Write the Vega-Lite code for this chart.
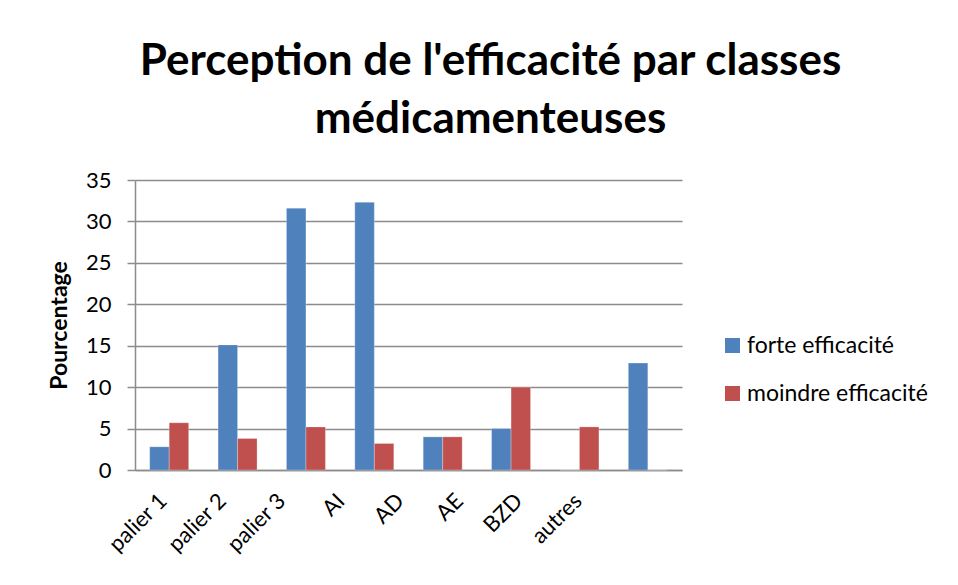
{
  "$schema": "https://vega.github.io/schema/vega-lite/v6.json",
  "width": 547,
  "height": 290,
  "autosize": {"type": "none"},
  "padding": {"left": 135, "top": 180, "right": 276, "bottom": 115},
  "background": "white",
  "title": {
    "text": ["Perception de l'efficacité par classes", "médicamenteuses"],
    "font": "Lato",
    "fontSize": 44,
    "fontWeight": "bold",
    "color": "#000000",
    "anchor": "middle",
    "dx": 82,
    "offset": 27,
    "lineHeight": 58
  },
  "data": {
    "values": [
      {"classe": "palier 1", "serie": "forte efficacité", "valeur": 2.8},
      {"classe": "palier 1", "serie": "moindre efficacité", "valeur": 5.7},
      {"classe": "palier 2", "serie": "forte efficacité", "valeur": 15.1},
      {"classe": "palier 2", "serie": "moindre efficacité", "valeur": 3.8},
      {"classe": "palier 3", "serie": "forte efficacité", "valeur": 31.6},
      {"classe": "palier 3", "serie": "moindre efficacité", "valeur": 5.2},
      {"classe": "AI", "serie": "forte efficacité", "valeur": 32.3},
      {"classe": "AI", "serie": "moindre efficacité", "valeur": 3.2},
      {"classe": "AD", "serie": "forte efficacité", "valeur": 4.0},
      {"classe": "AD", "serie": "moindre efficacité", "valeur": 4.0},
      {"classe": "AE", "serie": "forte efficacité", "valeur": 5.0},
      {"classe": "AE", "serie": "moindre efficacité", "valeur": 10.0},
      {"classe": "BZD", "serie": "forte efficacité", "valeur": 0},
      {"classe": "BZD", "serie": "moindre efficacité", "valeur": 5.2},
      {"classe": "autres", "serie": "forte efficacité", "valeur": 12.9},
      {"classe": "autres", "serie": "moindre efficacité", "valeur": 0}
    ]
  },
  "mark": {"type": "bar", "stroke": "white", "strokeOpacity": 0.5, "strokeWidth": 0.5},
  "encoding": {
    "x": {
      "field": "classe",
      "type": "nominal",
      "sort": ["palier 1", "palier 2", "palier 3", "AI", "AD", "AE", "BZD", "autres"],
      "scale": {"paddingInner": 0.43, "paddingOuter": 0.215},
      "axis": {
        "title": null,
        "labelAngle": -45,
        "labelFont": "Lato",
        "labelFontSize": 22,
        "labelColor": "#000000",
        "ticks": false,
        "labelPadding": 20,
        "labelOffset": {"expr": "-13 - 9.1 * indexof(['palier 1', 'palier 2', 'palier 3', 'AI', 'AD', 'AE', 'BZD', 'autres'], datum.value)"},
        "domainColor": "#8c8c8c",
        "domainWidth": 1.5
      }
    },
    "xOffset": {
      "field": "serie",
      "type": "nominal",
      "sort": ["forte efficacité", "moindre efficacité"]
    },
    "y": {
      "field": "valeur",
      "type": "quantitative",
      "scale": {"domain": [0, 35], "nice": false},
      "axis": {
        "title": "Pourcentage",
        "titleFont": "Lato",
        "titleFontSize": 23,
        "titleFontWeight": "bold",
        "titleColor": "#000000",
        "titlePadding": 14,
        "values": [0, 5, 10, 15, 20, 25, 30, 35],
        "labelFont": "Lato",
        "labelFontSize": 22,
        "labelColor": "#000000",
        "labelPadding": 16,
        "tickSize": 8,
        "tickColor": "#8c8c8c",
        "tickWidth": 1.5,
        "domainColor": "#8c8c8c",
        "domainWidth": 1.5,
        "grid": true,
        "gridColor": "#8c8c8c",
        "gridWidth": 1.5
      }
    },
    "color": {
      "field": "serie",
      "type": "nominal",
      "scale": {
        "domain": ["forte efficacité", "moindre efficacité"],
        "range": ["#4F81BD", "#C0504D"]
      },
      "legend": {
        "title": null,
        "orient": "none",
        "legendX": 586,
        "legendY": 154,
        "symbolType": "square",
        "symbolSize": 225,
        "symbolStrokeWidth": 0,
        "labelFont": "Lato",
        "labelFontSize": 23,
        "labelColor": "#000000",
        "labelLimit": 400,
        "rowPadding": 24,
        "labelOffset": 3
      }
    }
  },
  "config": {
    "view": {"stroke": null}
  }
}
